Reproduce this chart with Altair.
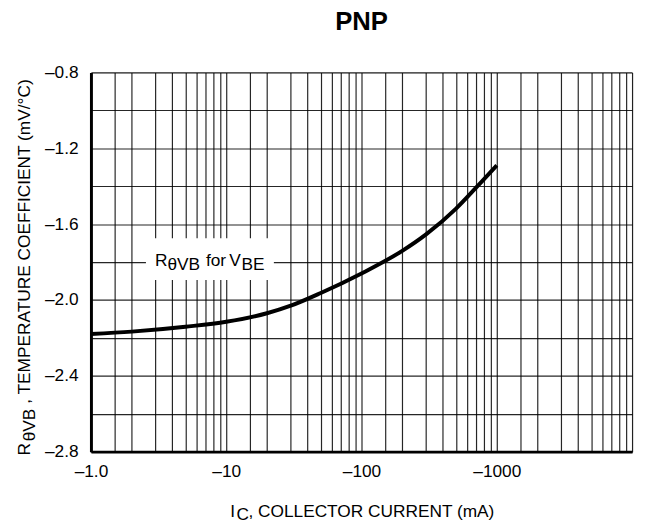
import altair as alt
import pandas as pd

# ---- data ----
collector_current_ma = [1, 2, 5, 10, 20, 30, 50, 100, 200, 300, 500, 700, 1000]
temp_coeff_mv_per_c = [-2.18, -2.167, -2.141, -2.115, -2.07, -2.03, -1.963,
                       -1.86, -1.741, -1.654, -1.518, -1.409, -1.29]

decades = [1, 10, 100, 1000]
grid_steps = [1, 1.5, 2, 3, 4, 5, 6, 7, 8, 9]
x_grid = [d * s for d in decades for s in grid_steps] + [10000]
x_label_values = [1, 10, 100, 1000]
x_label_text = ["\u20131.0", "\u201310", "\u2013100", "\u20131000"]

y_grid = [-0.8, -1.0, -1.2, -1.4, -1.6, -1.8, -2.0, -2.2, -2.4, -2.6, -2.8]
y_label_values = [-0.8, -1.2, -1.6, -2.0, -2.4, -2.8]
y_label_text = ["\u20130.8", "\u20131.2", "\u20131.6", "\u20132.0", "\u20132.4", "\u20132.8"]

# annotation box (data coordinates)
box_x = [2.55, 22.5]
box_y = [-1.675, -1.895]
label_anchor = [2.98, -1.8]

FONT = "Liberation Sans, Arial, sans-serif"
FS = 17.5
GRID = "#000000"


def label_expr(values, texts):
    expr = "''"
    for v, t in reversed(list(zip(values, texts))):
        expr = f"abs(datum.value - ({v})) < 1e-6 ? '{t}' : " + expr
    return expr


curve = pd.DataFrame({"ic": collector_current_ma, "tc": temp_coeff_mv_per_c})

x_scale = alt.Scale(type="log", domain=[1, 10000], nice=False)
y_scale = alt.Scale(domain=[-2.8, -0.8], nice=False, zero=False)

x_axis = alt.Axis(values=x_grid, labelExpr=label_expr(x_label_values, x_label_text),
                  ticks=False, title=None, grid=True, gridColor=GRID, gridWidth=1.2,
                  gridOpacity=0.85, domainColor="black", domainWidth=3,
                  labelFont=FONT, labelFontSize=FS, labelColor="black",
                  labelPadding=11, labelOverlap=False, labelFlush=False)
y_axis = alt.Axis(values=y_grid, labelExpr=label_expr(y_label_values, y_label_text),
                  ticks=False, title=None, grid=True, gridColor=GRID, gridWidth=1.2,
                  gridOpacity=0.85, domainColor="black", domainWidth=3,
                  labelFont=FONT, labelFontSize=FS, labelColor="black",
                  labelPadding=13, labelOverlap=False, labelFlush=False)

line = alt.Chart(curve).mark_line(color="black", strokeWidth=4, interpolate="monotone").encode(
    x=alt.X("ic:Q", scale=x_scale, axis=x_axis),
    y=alt.Y("tc:Q", scale=y_scale, axis=y_axis),
)

box_df = pd.DataFrame({"x1": [box_x[0]], "x2": [box_x[1]], "y1": [box_y[0]], "y2": [box_y[1]]})
box = alt.Chart(box_df).mark_rect(color="white").encode(
    x=alt.X("x1:Q", scale=x_scale, axis=x_axis), x2="x2:Q",
    y=alt.Y("y1:Q", scale=y_scale, axis=y_axis), y2="y2:Q",
)

one = pd.DataFrame({"a": [0]})
anchor_df = pd.DataFrame({"x": [label_anchor[0]], "y": [label_anchor[1]]})


def box_text(txt, dx, dy, size=FS):
    return alt.Chart(anchor_df).mark_text(
        text=txt, align="left", baseline="alphabetic", dx=dx, dy=dy,
        font=FONT, fontSize=size, color="black"
    ).encode(x=alt.X("x:Q", scale=x_scale, axis=x_axis),
             y=alt.Y("y:Q", scale=y_scale, axis=y_axis))


def free_text(txt, x, y, dx, dy, size=FS, angle=0, weight="normal", align="left"):
    kw = dict(text=txt, align=align, baseline="alphabetic", dx=dx, dy=dy,
              font=FONT, fontSize=size, fontWeight=weight, color="black")
    if angle:
        kw["angle"] = angle
    return alt.Chart(one).mark_text(**kw).encode(x=alt.value(x), y=alt.value(y))


texts = [
    box_text("R", 0, 4.3),
    box_text("\u03b8VB", 12.5, 8.3),
    box_text("for", 51.5, 4.3),
    box_text("V", 75, 4.3),
    box_text("BE", 87.5, 8.3),
    # y-axis title (rotated)
    free_text("R", -62, 388, 0, 0, angle=270),
    free_text("\u03b8VB", -62, 388, 14.5, 5, angle=270),
    free_text(", TEMPERATURE COEFFICIENT (mV/\u00b0C)", -62, 388, 52.5, 0, angle=270),
    # x-axis title
    free_text("I", 141, 450, 0, 0),
    free_text("C", 141, 450, 6.5, 3.5),
    free_text(", COLLECTOR CURRENT (mA)", 141, 450, 18.5, 0),
    # chart title
    free_text("PNP", 274, -43.3, 0, 0, size=26, weight="bold", align="center"),
]

chart = alt.layer(box, line, *texts).properties(
    width=548, height=384,
    padding={"left": 84, "top": 62, "right": 5, "bottom": 70},
    autosize=alt.AutoSizeParams(type="none"),
).configure_view(stroke=None).configure(background="white")

chart.save("out.html", embed_options={"renderer": "svg", "actions": False})
